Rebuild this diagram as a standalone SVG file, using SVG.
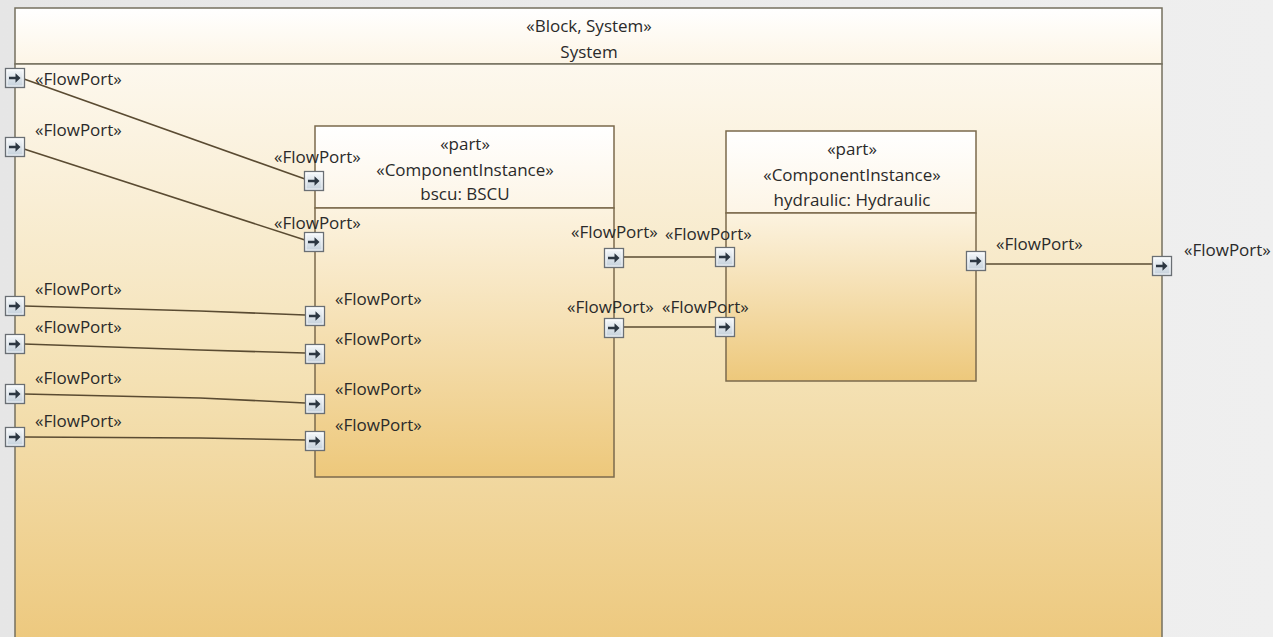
<svg xmlns="http://www.w3.org/2000/svg" xmlns:xlink="http://www.w3.org/1999/xlink" width="1273" height="637" viewBox="0 0 1273 637">
  <style>
    text { font-family: "Open Sans", "Noto Sans", "DejaVu Sans", sans-serif; font-size: 17px; fill: #2a2a2a; }
    .mid { text-anchor: middle; }
    .frame { stroke: #75705f; stroke-width: 1.5; }
    .part { stroke: #7b6a4c; stroke-width: 1.5; }
    .wire { stroke: #5a4b32; stroke-width: 1.6; fill: none; }
  </style>
  <defs>
    <linearGradient id="bgGrad" x1="0" y1="0" x2="1" y2="0">
      <stop offset="0" stop-color="#e6e6e6"/>
      <stop offset="1" stop-color="#efefef"/>
    </linearGradient>
    <linearGradient id="headGrad" x1="0" y1="0" x2="0" y2="1">
      <stop offset="0" stop-color="#ffffff"/>
      <stop offset="1" stop-color="#fdf5e6"/>
    </linearGradient>
    <linearGradient id="sysBody" gradientUnits="userSpaceOnUse" x1="0" y1="64" x2="0" y2="637">
      <stop offset="0" stop-color="#fdf8ee"/>
      <stop offset="0.55" stop-color="#f4e1b4"/>
      <stop offset="1" stop-color="#edc97f"/>
    </linearGradient>
    <linearGradient id="partBody" x1="0" y1="0" x2="0" y2="1">
      <stop offset="0" stop-color="#fcf3e0"/>
      <stop offset="1" stop-color="#edc87b"/>
    </linearGradient>
    <linearGradient id="portGrad" x1="0" y1="0" x2="0" y2="1">
      <stop offset="0" stop-color="#f7fafc"/>
      <stop offset="1" stop-color="#c3cfda"/>
    </linearGradient>
    <!-- flow port glyph, centred on its origin -->
    <g id="fp">
      <rect x="-9.5" y="-9.5" width="19" height="19" fill="url(#portGrad)" stroke="#6a6f74" stroke-width="1.3"/>
      <rect x="-8" y="-8" width="16" height="16" fill="none" stroke="#ffffff" stroke-opacity="0.7" stroke-width="1"/>
      <path d="M-6,-1.3 H0.5 V-4.8 L5.5,0 L0.5,4.8 V1.3 H-6 Z" fill="#2c3742"/>
    </g>
  </defs>

  <rect x="0" y="0" width="1273" height="637" fill="url(#bgGrad)"/>

  <!-- System block -->
  <g id="system">
    <rect x="15" y="8" width="1147" height="56" fill="url(#headGrad)" class="frame"/>
    <rect x="15" y="64" width="1147" height="580" fill="url(#sysBody)" class="frame"/>
    <text class="mid" x="589" y="32">«Block, System»</text>
    <text class="mid" x="589" y="58">System</text>
  </g>

  <!-- bscu part -->
  <g id="bscu">
    <rect x="315" y="126" width="299" height="82" fill="url(#headGrad)" class="part"/>
    <rect x="315" y="208" width="299" height="269" fill="url(#partBody)" class="part"/>
    <text class="mid" x="465" y="150">«part»</text>
    <text class="mid" x="465" y="176">«ComponentInstance»</text>
    <text class="mid" x="465" y="200">bscu: BSCU</text>
  </g>

  <!-- hydraulic part -->
  <g id="hydraulic">
    <rect x="726" y="131" width="250" height="82" fill="url(#headGrad)" class="part"/>
    <rect x="726" y="213" width="250" height="168" fill="url(#partBody)" class="part"/>
    <text class="mid" x="852" y="155">«part»</text>
    <text class="mid" x="852" y="181">«ComponentInstance»</text>
    <text class="mid" x="852" y="206">hydraulic: Hydraulic</text>
  </g>

  <!-- connectors -->
  <g id="connectors">
    <line class="wire" x1="24" y1="79" x2="305" y2="179"/>
    <line class="wire" x1="24" y1="149" x2="305" y2="240"/>
    <polyline class="wire" points="24,306 200,311 305,315"/>
    <polyline class="wire" points="24,344 200,350 305,353"/>
    <polyline class="wire" points="24,394 200,398 305,403"/>
    <polyline class="wire" points="24,437 200,438 305,440"/>
    <line class="wire" x1="623" y1="257" x2="716" y2="257"/>
    <line class="wire" x1="623" y1="327" x2="716" y2="327"/>
    <line class="wire" x1="985" y1="264" x2="1153" y2="264"/>
  </g>

  <!-- ports on the System frame -->
  <g id="system-ports">
    <use xlink:href="#fp" href="#fp" x="15" y="78"/>
    <use xlink:href="#fp" href="#fp" x="15" y="147"/>
    <use xlink:href="#fp" href="#fp" x="15" y="306"/>
    <use xlink:href="#fp" href="#fp" x="15" y="344"/>
    <use xlink:href="#fp" href="#fp" x="15" y="394"/>
    <use xlink:href="#fp" href="#fp" x="15" y="437"/>
    <use xlink:href="#fp" href="#fp" x="1162" y="266"/>
    <text x="35" y="85">«FlowPort»</text>
    <text x="35" y="136">«FlowPort»</text>
    <text x="35" y="295">«FlowPort»</text>
    <text x="35" y="333">«FlowPort»</text>
    <text x="35" y="384">«FlowPort»</text>
    <text x="35" y="427">«FlowPort»</text>
    <text x="1184" y="256">«FlowPort»</text>
  </g>

  <!-- ports on bscu -->
  <g id="bscu-ports">
    <use xlink:href="#fp" href="#fp" x="314" y="181"/>
    <use xlink:href="#fp" href="#fp" x="314" y="242"/>
    <use xlink:href="#fp" href="#fp" x="315" y="316"/>
    <use xlink:href="#fp" href="#fp" x="315" y="354"/>
    <use xlink:href="#fp" href="#fp" x="315" y="404"/>
    <use xlink:href="#fp" href="#fp" x="315" y="441"/>
    <use xlink:href="#fp" href="#fp" x="614" y="258"/>
    <use xlink:href="#fp" href="#fp" x="614" y="328"/>
    <text x="274" y="163">«FlowPort»</text>
    <text x="274" y="229">«FlowPort»</text>
    <text x="335" y="305">«FlowPort»</text>
    <text x="335" y="345">«FlowPort»</text>
    <text x="335" y="395">«FlowPort»</text>
    <text x="335" y="431">«FlowPort»</text>
    <text x="571" y="238">«FlowPort»</text>
    <text x="567" y="313">«FlowPort»</text>
  </g>

  <!-- ports on hydraulic -->
  <g id="hydraulic-ports">
    <use xlink:href="#fp" href="#fp" x="725" y="257"/>
    <use xlink:href="#fp" href="#fp" x="725" y="327"/>
    <use xlink:href="#fp" href="#fp" x="976" y="261"/>
    <text x="665" y="240">«FlowPort»</text>
    <text x="662" y="313">«FlowPort»</text>
    <text x="996" y="250">«FlowPort»</text>
  </g>
</svg>
